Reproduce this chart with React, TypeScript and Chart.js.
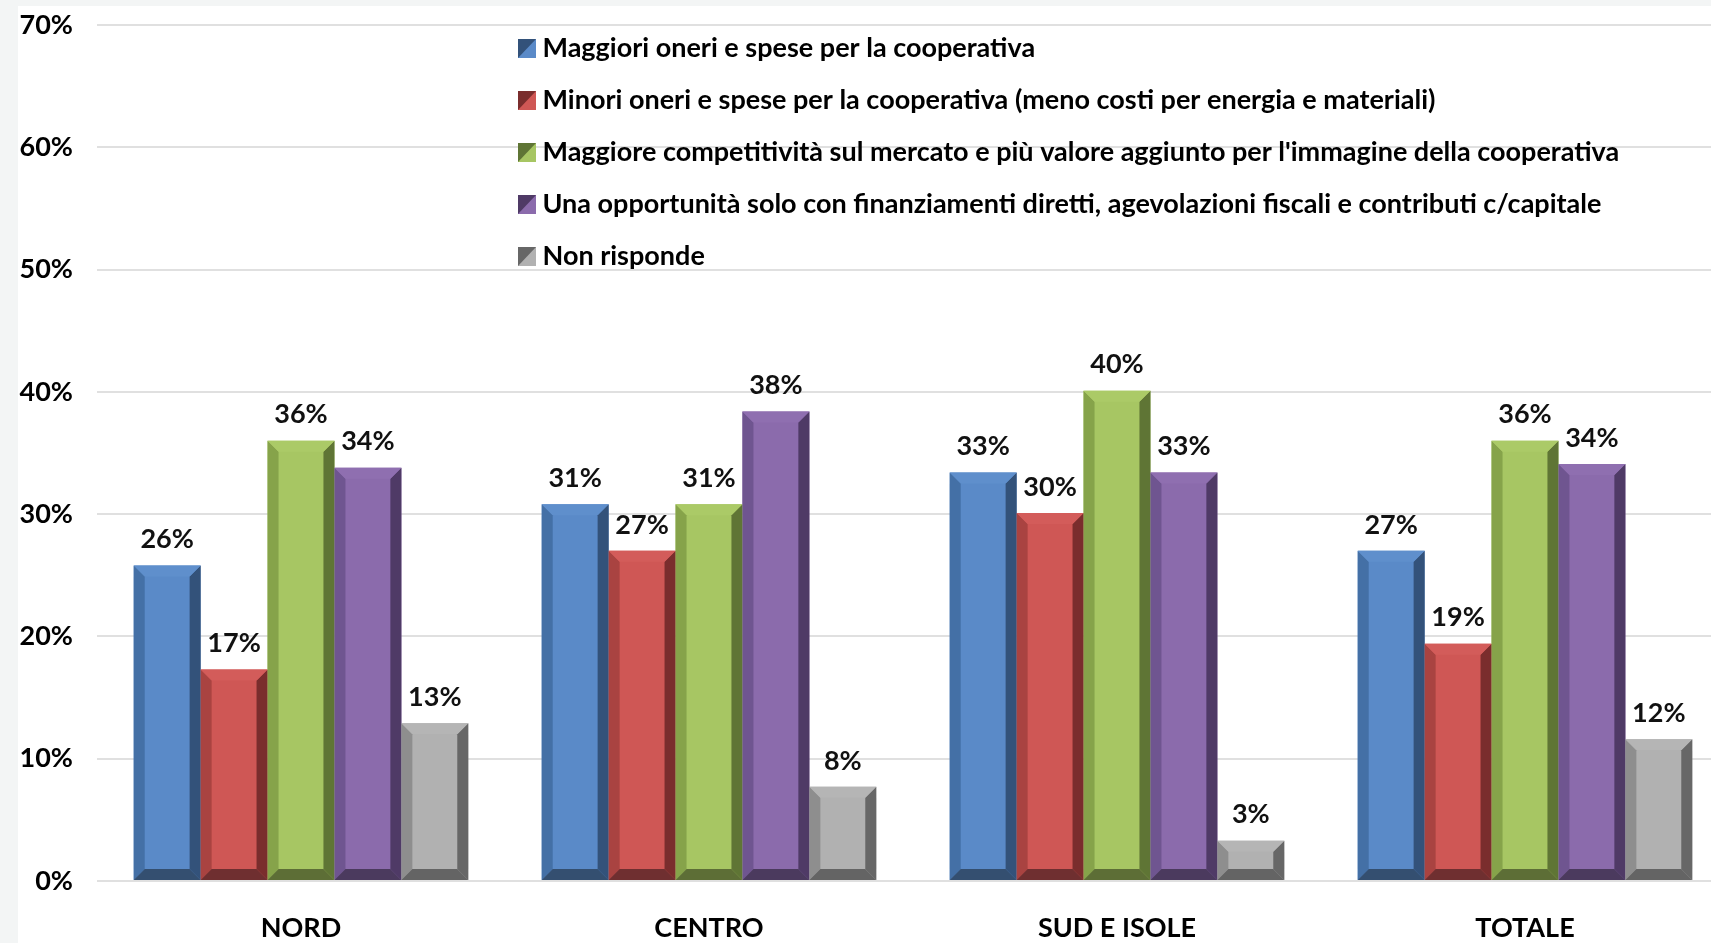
import React, { useEffect, useRef } from 'react';
import { Chart, registerables } from 'chart.js';

Chart.register(...registerables);

// ---------- data ----------
const categories = ['NORD', 'CENTRO', 'SUD E ISOLE', 'TOTALE'];
const seriesNames = [
  'Maggiori oneri e spese per la cooperativa',
  'Minori oneri e spese per la cooperativa (meno costi per energia e materiali)',
  "Maggiore competitività sul mercato e più valore aggiunto per l'immagine della cooperativa",
  'Una opportunità solo con finanziamenti diretti, agevolazioni fiscali e contributi c/capitale',
  'Non risponde',
];
const maggioriOneri = [25.8, 30.8, 33.4, 27.0];
const minoriOneri = [17.3, 27.0, 30.1, 19.4];
const competitivita = [36.0, 30.8, 40.1, 36.0];
const opportunita = [33.8, 38.4, 33.4, 34.1];
const nonRisponde = [12.9, 7.7, 3.3, 11.6];
const yMin = 0;
const yMax = 70;
const yStep = 10;

// ---------- styles ----------
const palette = [
  { face: '#5A8AC8', top: '#5F8FCC', left: '#4470A6', right: '#33527A', bottom: '#344F70' },
  { face: '#CF5755', top: '#D35C5A', left: '#A94341', right: '#7A2D2D', bottom: '#6F2F30' },
  { face: '#A7C663', top: '#ABCA67', left: '#86A34A', right: '#5F7535', bottom: '#5D6E36' },
  { face: '#8B6BAC', top: '#8F6FB0', left: '#6F5590', right: '#4F3A66', bottom: '#4B3A5E' },
  { face: '#B1B1B1', top: '#B5B5B5', left: '#8E8E8E', right: '#676767', bottom: '#646464' },
];
const FONT_FAMILY = 'Lato, "Noto Sans", sans-serif';
const FONT_SIZE = 27;

function poly(ctx: CanvasRenderingContext2D, pts: number[][], color: string) {
  ctx.beginPath();
  ctx.moveTo(pts[0][0], pts[0][1]);
  for (let i = 1; i < pts.length; i++) ctx.lineTo(pts[i][0], pts[i][1]);
  ctx.closePath();
  ctx.fillStyle = color;
  ctx.fill();
}

const bevelPlugin = {
  id: 'bevelBars',
  afterDatasetsDraw(chart: any) {
    const ctx: CanvasRenderingContext2D = chart.ctx;
    ctx.save();
    chart.data.datasets.forEach((ds: any, di: number) => {
      const meta = chart.getDatasetMeta(di);
      const p = palette[di];
      meta.data.forEach((bar: any) => {
        const { x, y, width, base } = bar.getProps(['x', 'y', 'width', 'base'], true);
        const L = x - width / 2;
        const R = x + width / 2;
        const T = y;
        const B = base;
        const b = Math.min(11, (B - T) / 2, width / 2);
        poly(ctx, [[L, T], [L + b, T + b], [L + b, B - b], [L, B]], p.left);
        poly(ctx, [[R, T], [R - b, T + b], [R - b, B - b], [R, B]], p.right);
        poly(ctx, [[L, T], [R, T], [R - b, T + b], [L + b, T + b]], p.top);
        poly(ctx, [[L, B], [R, B], [R - b, B - b], [L + b, B - b]], p.bottom);
      });
    });
    // value labels
    ctx.font = `bold ${FONT_SIZE}px ${FONT_FAMILY}`;
    ctx.fillStyle = '#111111';
    ctx.textAlign = 'center';
    ctx.textBaseline = 'middle';
    chart.data.datasets.forEach((ds: any, di: number) => {
      const meta = chart.getDatasetMeta(di);
      meta.data.forEach((bar: any, i: number) => {
        const { x, y } = bar.getProps(['x', 'y'], true);
        ctx.fillText(`${Math.round(ds.data[i])}%`, x, y - 26);
      });
    });
    ctx.restore();
  },
};

const legendPlacePlugin = {
  id: 'legendPlace',
  afterLayout(chart: any) {
    const lg = chart.legend;
    if (!lg) return;
    lg.left = 482;
    lg.top = 4;
  },
};

export default function App() {
  const ref = useRef<HTMLCanvasElement | null>(null);

  useEffect(() => {
    const canvas = ref.current!;
    const markers = palette.map((p) => {
      const c = document.createElement('canvas');
      c.width = 18;
      c.height = 19;
      const g = c.getContext('2d')!;
      g.fillStyle = p.face;
      g.fillRect(0, 0, 18, 19);
      g.fillStyle = p.right;
      g.beginPath();
      g.moveTo(0, 0);
      g.lineTo(18, 0);
      g.lineTo(0, 19);
      g.closePath();
      g.fill();
      return c;
    });

    const seriesValues = [maggioriOneri, minoriOneri, competitivita, opportunita, nonRisponde];

    const chart = new Chart(canvas, {
      type: 'bar',
      data: {
        labels: categories,
        datasets: seriesValues.map((vals, i) => ({
          label: seriesNames[i],
          data: vals,
          backgroundColor: palette[i].face,
          borderWidth: 0,
          barPercentage: 1,
          categoryPercentage: 0.82,
        })),
      },
      options: {
        responsive: false,
        animation: false,
        devicePixelRatio: 1,
        layout: { padding: { top: 19, left: 0, right: 0, bottom: 0 } },
        plugins: {
          tooltip: { enabled: false },
          legend: {
            position: 'chartArea' as any,
            align: 'start',
            labels: {
              usePointStyle: true,
              pointStyleWidth: 4,
              padding: 25,
              color: '#000000',
              font: { family: FONT_FAMILY, size: FONT_SIZE, weight: 'bold' },
              generateLabels: (ch: any) =>
                Chart.defaults.plugins.legend.labels
                  .generateLabels(ch)
                  .map((it: any, i: number) => ({ ...it, pointStyle: markers[i] })),
            },
          },
        },
        scales: {
          x: {
            type: 'category',
            offset: true,
            grid: { display: false },
            border: { display: false },
            ticks: {
              padding: 23,
              color: '#000000',
              font: { family: FONT_FAMILY, size: FONT_SIZE, weight: 'bold' },
            },
            afterFit: (s: any) => {
              s.height = 62;
            },
          },
          y: {
            min: yMin,
            max: yMax,
            grid: { color: '#E0E0E0', lineWidth: 2, drawTicks: false },
            border: { display: false },
            ticks: {
              stepSize: yStep,
              padding: 24,
              color: '#000000',
              font: { family: FONT_FAMILY, size: FONT_SIZE, weight: 'bold' },
              callback: (v: any) => `${v}%`,
            },
            afterFit: (s: any) => {
              s.width = 79;
              s.paddingTop = 10;
              s.paddingBottom = 10;
            },
          },
        },
      },
      plugins: [bevelPlugin, legendPlacePlugin],
    });
    return () => chart.destroy();
  }, []);

  return (
    <div
      style={{
        position: 'fixed',
        left: 0,
        top: 0,
        width: 1711,
        height: 943,
        overflow: 'hidden',
        background: '#F3F5F5',
      }}
    >
      <div style={{ position: 'absolute', left: 18, top: 6, right: 0, bottom: 0, background: '#FFFFFF' }} />
      <canvas
        ref={ref}
        width={1711}
        height={937}
        style={{ position: 'absolute', left: 18, top: 6, width: '1711px', height: '937px' }}
      />
    </div>
  );
}
